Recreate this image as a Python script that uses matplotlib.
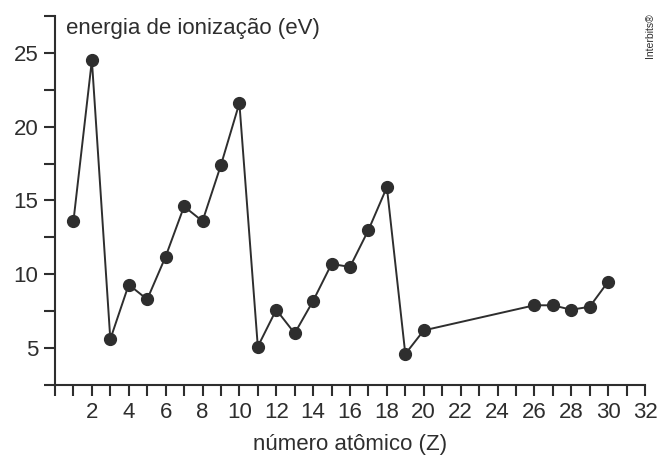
import matplotlib
matplotlib.use("Agg")
import matplotlib.pyplot as plt
from matplotlib.ticker import MultipleLocator

plt.rcParams['font.family'] = ['Liberation Sans', 'DejaVu Sans']

# atomic number and first ionization energy (eV)
z = [1, 2, 3, 4, 5, 6, 7, 8, 9, 10, 11, 12, 13, 14, 15, 16, 17, 18, 19, 20,
     26, 27, 28, 29, 30]
energia = [13.6, 24.5, 5.6, 9.3, 8.3, 11.2, 14.6, 13.6, 17.4, 21.6, 5.1, 7.6, 6.0, 8.2,
           10.7, 10.5, 13.0, 15.9, 4.6, 6.2, 7.9, 7.9, 7.6, 7.8, 9.5]
x_labels = list(range(2, 33, 2))
y_labels = [5, 10, 15, 20, 25]

cor = '#2e2e2e'
fig = plt.figure(figsize=(6.57, 4.57), dpi=100)
ax = fig.add_axes([55 / 657, 72 / 457, 590 / 657, 369 / 457])

ax.plot(z, energia, color=cor, lw=1.4, marker='o', markersize=8.5,
        markerfacecolor=cor, markeredgecolor=cor)

ax.set_xlim(0, 32)
ax.set_ylim(2.5, 27.5)
ax.set_xticks(x_labels)
ax.set_xticklabels([str(v) for v in x_labels])
ax.xaxis.set_minor_locator(MultipleLocator(1))
ax.set_yticks(y_labels)
ax.set_yticklabels([str(v) for v in y_labels])
ax.yaxis.set_minor_locator(MultipleLocator(2.5))

for s in ['top', 'right']:
    ax.spines[s].set_visible(False)
for s in ['left', 'bottom']:
    ax.spines[s].set_linewidth(1.5)
    ax.spines[s].set_color(cor)

ax.tick_params(which='both', direction='out', color=cor, width=1.5, labelsize=16,
               labelcolor=cor)
ax.tick_params(which='major', length=8, pad=4)
ax.tick_params(which='minor', length=8)
ax.set_xlabel('número atômico (Z)', fontsize=16, color=cor, labelpad=8)
ax.text(0.6, 26.65, 'energia de ionização (eV)', fontsize=16, color=cor,
        ha='left', va='center')
fig.text(0.989, 0.97, 'Interbits®', rotation=90, fontsize=7.5, color=cor,
         ha='center', va='top')

fig.savefig('out.png', dpi=100, facecolor='white')
